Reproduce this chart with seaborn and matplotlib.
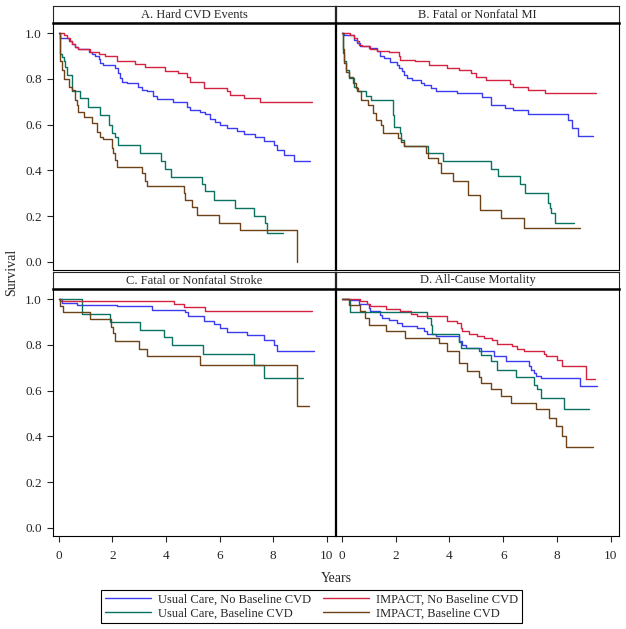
import pandas as pd
import matplotlib
matplotlib.use("Agg")
import matplotlib.pyplot as plt
from matplotlib.lines import Line2D
import seaborn as sns

# Kaplan-Meier step points: (years, survival)
groups = ["Usual Care, No Baseline CVD", "Usual Care, Baseline CVD",
          "IMPACT, No Baseline CVD", "IMPACT, Baseline CVD"]
colors = ["#3b3bf0", "#0a7260", "#d42241", "#6e4219"]
panel_titles = ["A. Hard CVD Events", "B. Fatal or Nonfatal MI",
                "C. Fatal or Nonfatal Stroke", "D. All-Cause Mortality"]
x_ticks = [0, 2, 4, 6, 8, 10]
y_ticks = [0.0, 0.2, 0.4, 0.6, 0.8, 1.0]

# A. Hard CVD events
a_ucn_t = [0, 0.06, 0.37, 0.5, 0.62, 0.74, 1.12, 1.24, 1.36, 1.49, 1.55, 1.67, 2.11, 2.23, 2.29, 2.35, 2.54,
           2.97, 3.10, 3.28, 3.53, 3.66, 4.28, 4.77, 4.89, 5.28, 5.47, 5.65, 5.84, 6.02, 6.27, 6.65, 6.89,
           7.33, 7.64, 8.01, 8.14, 8.39, 8.76, 9.38]
a_ucn_s = [1.0, 0.978, 0.964, 0.95, 0.94, 0.93, 0.917, 0.908, 0.898, 0.886, 0.869, 0.861, 0.847, 0.825, 0.803,
           0.788, 0.781, 0.766, 0.752, 0.745, 0.726, 0.711, 0.70, 0.676, 0.664, 0.655, 0.645, 0.625, 0.61,
           0.60, 0.585, 0.57, 0.56, 0.545, 0.53, 0.51, 0.49, 0.465, 0.44, 0.44]
a_ucb_t = [0, 0.04, 0.12, 0.19, 0.25, 0.31, 0.5, 0.81, 1.08, 1.53, 1.86, 1.98, 2.1, 2.23, 3.04, 3.8, 3.97,
           4.2, 5.34, 5.47, 5.78, 6.58, 7.27, 7.70, 7.76, 8.36]
a_ucb_s = [1.0, 0.91, 0.895, 0.876, 0.85, 0.818, 0.745, 0.715, 0.676, 0.642, 0.60, 0.562, 0.545, 0.511,
           0.474, 0.44, 0.405, 0.37, 0.34, 0.31, 0.27, 0.235, 0.20, 0.17, 0.125, 0.125]
a_imn_t = [0, 0.19, 0.31, 0.43, 0.5, 0.62, 0.74, 1.18, 1.49, 1.73, 2.17, 2.85, 3.22, 3.97, 4.46, 4.77, 4.89,
           5.4, 6.27, 6.4, 6.89, 7.52, 9.44]
a_imn_s = [1.0, 0.99, 0.978, 0.964, 0.95, 0.94, 0.93, 0.917, 0.908, 0.898, 0.876, 0.864, 0.851, 0.835,
           0.825, 0.807, 0.788, 0.759, 0.745, 0.73, 0.718, 0.70, 0.70]
a_imb_t = [0, 0.04, 0.06, 0.12, 0.19, 0.37, 0.5, 0.62, 0.68, 0.74, 0.93, 1.24, 1.43, 1.55, 1.67, 1.98, 2.04,
           2.11, 2.17, 3.1, 3.23, 3.29, 4.66, 4.72, 4.97, 5.16, 5.96, 6.77, 8.88]
a_imb_s = [1.0, 0.91, 0.876, 0.84, 0.80, 0.766, 0.752, 0.708, 0.686, 0.657, 0.635, 0.606, 0.569, 0.547,
           0.535, 0.496, 0.474, 0.445, 0.415, 0.39, 0.355, 0.33, 0.30, 0.27, 0.24, 0.205, 0.17, 0.14, 0.0]

# B. Fatal or nonfatal MI
b_ucn_t = [0, 0.07, 0.45, 0.57, 0.69, 1.0, 1.32, 1.44, 1.56, 1.81, 2.06, 2.12, 2.25, 2.31, 2.43, 2.62, 2.93,
           3.05, 3.30, 3.49, 4.29, 5.22, 5.56, 6.05, 6.36, 6.92, 8.41, 8.54, 8.76, 9.34]
b_ucn_s = [1.0, 0.993, 0.971, 0.956, 0.945, 0.934, 0.92, 0.898, 0.891, 0.872, 0.861, 0.847, 0.832, 0.818,
           0.803, 0.796, 0.781, 0.774, 0.759, 0.747, 0.737, 0.72, 0.686, 0.674, 0.664, 0.645, 0.62, 0.587,
           0.552, 0.552]
b_ucb_t = [0, 0.04, 0.1, 0.16, 0.26, 0.45, 0.57, 0.91, 1.09, 1.90, 1.96, 2.15, 2.21, 2.33, 3.20, 3.76, 5.56,
           5.81, 6.61, 6.80, 7.67, 7.73, 7.79, 7.92, 8.62]
b_ucb_s = [1.0, 0.912, 0.876, 0.839, 0.803, 0.766, 0.747, 0.723, 0.708, 0.642, 0.591, 0.562, 0.533, 0.508,
           0.474, 0.439, 0.406, 0.375, 0.339, 0.299, 0.258, 0.235, 0.212, 0.171, 0.171]
b_imn_t = [0, 0.32, 0.45, 0.57, 0.63, 0.76, 1.07, 1.32, 1.75, 2.12, 2.18, 2.74, 3.24, 3.92, 4.35, 4.79, 4.98,
           5.37, 6.24, 6.36, 6.92, 7.54, 9.43]
b_imn_s = [1.0, 0.993, 0.978, 0.965, 0.949, 0.942, 0.931, 0.923, 0.917, 0.898, 0.883, 0.876, 0.861, 0.847,
           0.839, 0.825, 0.807, 0.793, 0.778, 0.764, 0.752, 0.74, 0.74]
b_imb_t = [0, 0.04, 0.1, 0.16, 0.29, 0.41, 0.53, 0.6, 0.72, 0.97, 1.15, 1.28, 1.46, 1.53, 2.08, 2.21, 2.33,
           3.14, 3.20, 3.57, 3.70, 4.13, 4.69, 5.15, 5.93, 6.76, 8.85]
b_imb_s = [1.0, 0.93, 0.87, 0.83, 0.81, 0.78, 0.76, 0.745, 0.708, 0.686, 0.65, 0.62, 0.599, 0.565, 0.543,
           0.525, 0.508, 0.474, 0.453, 0.431, 0.387, 0.353, 0.292, 0.226, 0.19, 0.149, 0.149]

# C. Fatal or nonfatal stroke
c_ucn_t = [0, 0.12, 0.68, 2.17, 3.48, 4.72, 4.84, 5.40, 5.78, 6.02, 6.27, 7.02, 7.64, 8.01, 8.14, 9.5]
c_ucn_s = [1.0, 0.982, 0.975, 0.968, 0.953, 0.942, 0.924, 0.905, 0.892, 0.873, 0.858, 0.844, 0.822, 0.80,
           0.774, 0.774]
c_ucb_t = [0, 0.87, 1.93, 3.04, 3.91, 4.22, 5.37, 7.29, 7.66, 9.11]
c_ucb_s = [1.0, 0.936, 0.899, 0.866, 0.834, 0.80, 0.761, 0.712, 0.653, 0.653]
c_imn_t = [0, 0.05, 4.29, 4.66, 5.47, 9.44]
c_imn_s = [1.0, 0.99, 0.98, 0.965, 0.949, 0.949]
c_imb_t = [0, 0.06, 0.15, 1.18, 1.96, 2.03, 2.11, 2.98, 3.29, 5.28, 8.88, 9.32]
c_imb_s = [1.0, 0.97, 0.945, 0.912, 0.88, 0.85, 0.815, 0.782, 0.749, 0.712, 0.533, 0.533]

# D. All-cause mortality
d_ucn_t = [0, 0.26, 0.63, 1.0, 1.07, 1.44, 1.5, 1.75, 2.06, 2.25, 2.8, 3.05, 3.18, 3.49, 4.35, 4.48, 4.6,
           5.16, 5.66, 6.09, 6.94, 7.02, 7.15, 7.21, 7.39, 8.86, 9.48]
d_ucn_s = [1.0, 0.995, 0.98, 0.961, 0.947, 0.932, 0.917, 0.907, 0.895, 0.884, 0.873, 0.859, 0.847, 0.837,
           0.815, 0.80, 0.786, 0.771, 0.749, 0.727, 0.708, 0.691, 0.676, 0.665, 0.653, 0.622, 0.622]
d_ucb_t = [0, 0.3, 3.18, 3.30, 3.36, 4.35, 4.42, 5.10, 5.16, 5.53, 5.78, 6.46, 7.15, 7.27, 7.39, 8.24, 9.19]
d_ucb_s = [1.0, 0.942, 0.917, 0.888, 0.847, 0.811, 0.786, 0.771, 0.757, 0.73, 0.691, 0.659, 0.625, 0.608,
           0.567, 0.521, 0.521]
d_imn_t = [0, 0.69, 0.94, 1.07, 1.63, 2.18, 2.56, 2.80, 3.92, 4.29, 4.42, 4.48, 4.73, 5.04, 5.29, 5.60, 5.78,
           6.34, 6.53, 6.77, 7.52, 7.58, 8.01, 8.20, 9.09, 9.42]
d_imn_s = [1.0, 0.99, 0.98, 0.968, 0.957, 0.947, 0.935, 0.925, 0.906, 0.895, 0.873, 0.859, 0.847, 0.84,
           0.83, 0.819, 0.805, 0.793, 0.782, 0.771, 0.761, 0.749, 0.735, 0.708, 0.65, 0.65]
d_imb_t = [0, 0.26, 0.69, 0.88, 1.0, 1.63, 2.37, 3.61, 3.92, 4.35, 4.67, 5.10, 5.16, 5.53, 5.91, 6.28, 7.21,
           7.70, 7.95, 8.2, 8.33, 9.32]
d_imb_s = [1.0, 0.976, 0.947, 0.917, 0.888, 0.859, 0.83, 0.808, 0.774, 0.72, 0.687, 0.659, 0.632, 0.606,
           0.574, 0.545, 0.519, 0.479, 0.446, 0.40, 0.355, 0.355]

curves = {
    0: [(a_ucn_t, a_ucn_s), (a_ucb_t, a_ucb_s), (a_imn_t, a_imn_s), (a_imb_t, a_imb_s)],
    1: [(b_ucn_t, b_ucn_s), (b_ucb_t, b_ucb_s), (b_imn_t, b_imn_s), (b_imb_t, b_imb_s)],
    2: [(c_ucn_t, c_ucn_s), (c_ucb_t, c_ucb_s), (c_imn_t, c_imn_s), (c_imb_t, c_imb_s)],
    3: [(d_ucn_t, d_ucn_s), (d_ucb_t, d_ucb_s), (d_imn_t, d_imn_s), (d_imb_t, d_imb_s)],
}

rows = []
for p, series in curves.items():
    for g, (t, s) in zip(groups, series):
        for ti, si in zip(t, s):
            rows.append({"panel": p, "group": g, "years": ti, "survival": si})
df = pd.DataFrame(rows)

sns.set_style("ticks")
plt.rcParams["font.family"] = ["Liberation Serif", "DejaVu Serif"]
plt.rcParams["font.size"] = 9

W, H = 626, 629
fig = plt.figure(figsize=(W / 100, H / 100), dpi=100)

# panel boxes in pixels: (left, right, header top, header bottom, plot bottom)
cols = [(53, 335), (336, 619)]
rows_px = [(6, 23, 270), (272, 289, 536)]
palette = dict(zip(groups, colors))

for p in range(4):
    r, c = divmod(p, 2)
    l, rt = cols[c]
    ht, hb, pb = rows_px[r]
    hax = fig.add_axes([l / W, 1 - hb / H, (rt - l) / W, (hb - ht) / H])
    hax.set_xticks([])
    hax.set_yticks([])
    for sp in hax.spines.values():
        sp.set_linewidth(0.8)
    hax.text(0.5, 0.5, panel_titles[p], ha="center", va="center", fontsize=9)

    ax = fig.add_axes([l / W, 1 - pb / H, (rt - l) / W, (pb - hb) / H])
    sub = df[df["panel"] == p]
    sns.lineplot(data=sub, x="years", y="survival", hue="group", hue_order=groups,
                 palette=palette, drawstyle="steps-post", estimator=None,
                 linewidth=1.0, legend=False, ax=ax)
    ax.set_xlim(-0.21, 10.3)
    ax.set_ylim(-0.036, 1.044)
    ax.set_xlabel("")
    ax.set_ylabel("")
    for sp in ax.spines.values():
        sp.set_linewidth(0.8)
        sp.set_color("black")
    ax.spines["top"].set_linewidth(1.8)
    if c == 0:
        ax.spines["right"].set_linewidth(0.9)
        hax.spines["right"].set_linewidth(0.9)
    else:
        ax.spines["left"].set_linewidth(0.9)
        hax.spines["left"].set_linewidth(0.9)
    ax.set_xticks(x_ticks)
    ax.set_yticks(y_ticks)
    ax.set_yticklabels([f"{v:.1f}" for v in y_ticks])
    ax.tick_params(axis="both", direction="out", length=4, width=0.8, labelsize=9.5, pad=4)
    if r == 0:
        ax.tick_params(axis="x", bottom=False, labelbottom=False)
    else:
        ax.tick_params(axis="x", pad=6)
    if c == 1:
        ax.tick_params(axis="y", left=False, labelleft=False)

fig.text(12 / W, 1 - 272 / H, "Survival", rotation=90, ha="center", va="center", fontsize=10)
fig.text(336 / W, 1 - 578 / H, "Years", ha="center", va="center", fontsize=10)

handles = [Line2D([0], [0], color=col, lw=1.0) for col in colors]
leg = fig.legend(handles, groups, ncol=2, loc="center",
                 bbox_to_anchor=(311.5 / W, 1 - 606.5 / H), fontsize=9,
                 frameon=True, fancybox=False, edgecolor="black", framealpha=1,
                 handlelength=3.7, handletextpad=0.6, columnspacing=0.9,
                 labelspacing=0.15, borderpad=0.25)
leg.get_frame().set_linewidth(0.8)

fig.savefig("out.png", dpi=100)
